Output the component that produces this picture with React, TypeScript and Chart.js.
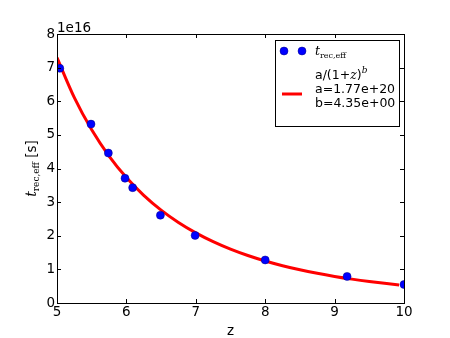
import React, { useEffect, useRef } from "react";
import { Chart, registerables } from "chart.js";

Chart.register(...registerables);

// Measured points (t in units of 1e16 s)
const zPoints = [5.04, 5.49, 5.74, 5.98, 6.09, 6.49, 6.99, 8.0, 9.18, 10.0];
const tPoints = [6.98, 5.32, 4.46, 3.71, 3.43, 2.61, 2.01, 1.28, 0.79, 0.55];

// Fit curve values (units of 1e16 s)
const fitZ = [5, 5.25, 5.5, 5.75, 6, 6.25, 6.5, 6.75, 7, 7.25, 7.5, 7.75, 8, 8.25, 8.5, 8.75, 9, 9.25, 9.5, 9.75, 9.93];
const fitT = [7.295, 6.108, 5.15, 4.37, 3.731, 3.203, 2.764, 2.396, 2.087, 1.826, 1.603, 1.413, 1.25, 1.11, 0.988, 0.883, 0.791, 0.71, 0.639, 0.577, 0.537];

const xTicks = [5, 6, 7, 8, 9, 10];
const yTicks = [0, 1, 2, 3, 4, 5, 6, 7, 8];
const offsetLabel = "1e16";
const xTitle = "z";
const legendFit = ["a=1.77e+20", "b=4.35e+00"];

const SANS = '"DejaVu Sans"';
const SERIF = '"DejaVu Serif"';

type Piece = { text: string; font: string; dy: number };

function drawPieces(ctx: CanvasRenderingContext2D, pieces: Piece[], x: number, y: number, align: "left" | "center") {
  let total = 0;
  for (const p of pieces) {
    ctx.font = p.font;
    total += ctx.measureText(p.text).width;
  }
  let cx = align === "center" ? x - total / 2 : x;
  ctx.textAlign = "left";
  ctx.textBaseline = "alphabetic";
  for (const p of pieces) {
    ctx.font = p.font;
    ctx.fillText(p.text, cx, y + p.dy);
    cx += ctx.measureText(p.text).width;
  }
}

const decorPlugin = {
  id: "decor",
  afterDatasetsDraw(chart: any) {
    const ctx: CanvasRenderingContext2D = chart.ctx;
    const { left, right, top, bottom } = chart.chartArea;
    const xs = chart.scales.x;
    const ys = chart.scales.y;
    ctx.save();
    ctx.strokeStyle = "#000";
    ctx.lineWidth = 1;
    // frame
    ctx.strokeRect(Math.round(left) + 0.5, Math.round(top) + 0.5, Math.round(right - left), Math.round(bottom - top));
    // inward ticks
    const tl = 4;
    ctx.beginPath();
    for (const v of xTicks) {
      const px = Math.round(xs.getPixelForValue(v)) + 0.5;
      ctx.moveTo(px, bottom);
      ctx.lineTo(px, bottom - tl);
      ctx.moveTo(px, top);
      ctx.lineTo(px, top + tl);
    }
    for (const v of yTicks) {
      const py = Math.round(ys.getPixelForValue(v)) + 0.5;
      ctx.moveTo(left, py);
      ctx.lineTo(left + tl, py);
      ctx.moveTo(right, py);
      ctx.lineTo(right - tl, py);
    }
    ctx.stroke();

    ctx.fillStyle = "#000";
    // offset text
    ctx.font = `13.5px ${SANS}`;
    ctx.textAlign = "left";
    ctx.textBaseline = "alphabetic";
    ctx.fillText(offsetLabel, left, top - 2);

    // x title
    ctx.textAlign = "center";
    ctx.fillText(xTitle, (left + right) / 2, 335);

    // y title
    ctx.save();
    ctx.translate(36, (top + bottom) / 2);
    ctx.rotate(-Math.PI / 2);
    drawPieces(
      ctx,
      [
        { text: "t", font: `italic 14px ${SERIF}`, dy: 0 },
        { text: "rec,eff", font: `9px ${SERIF}`, dy: 3 },
        { text: " [s]", font: `13.5px ${SANS}`, dy: 0 },
      ],
      0,
      0,
      "center"
    );
    ctx.restore();

    // legend
    const lx = 275, ly = 40, lw = 124, lh = 86;
    ctx.fillStyle = "#fff";
    ctx.fillRect(lx, ly, lw, lh);
    ctx.strokeStyle = "#000";
    ctx.strokeRect(lx + 0.5, ly + 0.5, lw, lh);
    // marker entry
    ctx.fillStyle = "#0000ff";
    ctx.strokeStyle = "#000080";
    ctx.lineWidth = 0.5;
    for (const mx of [284, 302]) {
      ctx.beginPath();
      ctx.arc(mx, 51, 4, 0, Math.PI * 2);
      ctx.fill();
      ctx.stroke();
    }
    ctx.fillStyle = "#000";
    drawPieces(
      ctx,
      [
        { text: "t", font: `italic 12.5px ${SERIF}`, dy: 0 },
        { text: "rec,eff", font: `8px ${SERIF}`, dy: 2.5 },
      ],
      315,
      55,
      "left"
    );
    // line entry
    ctx.strokeStyle = "#ff0000";
    ctx.lineWidth = 3;
    ctx.beginPath();
    ctx.moveTo(282, 94);
    ctx.lineTo(302, 94);
    ctx.stroke();
    ctx.fillStyle = "#000";
    drawPieces(
      ctx,
      [
        { text: "a/(1+", font: `12.5px ${SANS}`, dy: 0 },
        { text: "z", font: `italic 12.5px ${SERIF}`, dy: 0 },
        { text: ")", font: `12.5px ${SANS}`, dy: 0 },
        { text: "b", font: `italic 9px ${SERIF}`, dy: -6 },
      ],
      315,
      79,
      "left"
    );
    ctx.font = `12.5px ${SANS}`;
    ctx.textAlign = "left";
    ctx.fillText(legendFit[0], 315, 93);
    ctx.fillText(legendFit[1], 315, 106.5);
    ctx.restore();
  },
};

export default function App() {
  const ref = useRef<HTMLCanvasElement | null>(null);
  useEffect(() => {
    document.body.style.margin = "0";
    const canvas = ref.current!;
    const chart = new Chart(canvas, {
      type: "scatter",
      data: {
        datasets: [
          {
            label: "points",
            data: zPoints.map((z, i) => ({ x: z, y: tPoints[i] })),
            backgroundColor: "#0000ff",
            borderColor: "#000080",
            borderWidth: 0.5,
            pointRadius: 4,
            showLine: false,
          },
          {
            label: "fit",
            data: fitZ.map((z, i) => ({ x: z, y: fitT[i] })),
            borderColor: "#ff0000",
            backgroundColor: "#ff0000",
            borderWidth: 3,
            pointRadius: 0,
            showLine: true,
            cubicInterpolationMode: "monotone",
          },
        ],
      },
      options: {
        animation: false,
        responsive: false,
        maintainAspectRatio: false,
        layout: { padding: { left: 0, top: 34, right: 46, bottom: 0 } },
        plugins: { legend: { display: false }, tooltip: { enabled: false } },
        scales: {
          x: {
            type: "linear",
            min: 5,
            max: 10,
            afterFit: (s: any) => {
              s.height = 35;
            },
            afterBuildTicks: (s: any) => {
              s.ticks = xTicks.map((v) => ({ value: v }));
            },
            ticks: {
              color: "#000",
              font: { family: "DejaVu Sans", size: 13.5 },
              padding: 1,
              maxRotation: 0,
              autoSkip: false,
            },
            grid: { display: false, drawTicks: false },
            border: { display: false },
          },
          y: {
            type: "linear",
            min: 0,
            max: 8,
            afterFit: (s: any) => {
              s.width = 57;
            },
            afterBuildTicks: (s: any) => {
              s.ticks = yTicks.map((v) => ({ value: v }));
            },
            ticks: {
              color: "#000",
              font: { family: "DejaVu Sans", size: 13.5 },
              padding: 2,
              autoSkip: false,
            },
            grid: { display: false, drawTicks: false },
            border: { display: false },
          },
        },
      },
      plugins: [decorPlugin],
    });
    return () => chart.destroy();
  }, []);
  return (
    <div style={{ position: "absolute", left: 0, top: 0, width: 450, height: 338 }}>
      <canvas ref={ref} width={450} height={338} style={{ width: 450, height: 338 }} />
    </div>
  );
}
